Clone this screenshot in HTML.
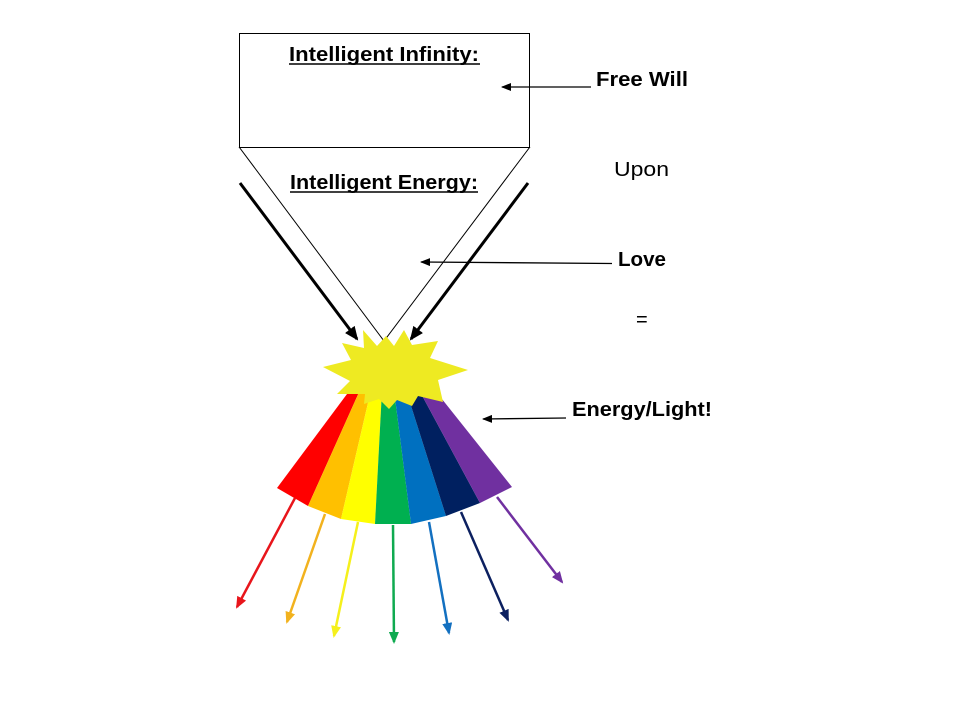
<!DOCTYPE html>
<html><head><meta charset="utf-8"><style>
html,body{margin:0;padding:0;background:#fff;}
svg{display:block;font-family:"Liberation Sans",Arial,sans-serif;}
</style></head><body>
<svg width="973" height="714" viewBox="0 0 973 714" xmlns="http://www.w3.org/2000/svg">
<defs>
<marker id="ah" markerWidth="10" markerHeight="8" refX="9" refY="4" orient="auto" markerUnits="userSpaceOnUse"><path d="M0,0 L10,4 L0,8 Z" fill="#000"/></marker>
<marker id="ahb" markerWidth="14" markerHeight="12" refX="12" refY="6" orient="auto" markerUnits="userSpaceOnUse"><path d="M0,0 L14,6 L0,12 Z" fill="#000"/></marker>
<marker id="mr" markerWidth="12" markerHeight="10" refX="10" refY="5" orient="auto" markerUnits="userSpaceOnUse"><path d="M0,0 L12,5 L0,10 Z" fill="#e8151b"/></marker>
<marker id="mo" markerWidth="12" markerHeight="10" refX="10" refY="5" orient="auto" markerUnits="userSpaceOnUse"><path d="M0,0 L12,5 L0,10 Z" fill="#f2b21e"/></marker>
<marker id="my" markerWidth="12" markerHeight="10" refX="10" refY="5" orient="auto" markerUnits="userSpaceOnUse"><path d="M0,0 L12,5 L0,10 Z" fill="#f5f01c"/></marker>
<marker id="mg" markerWidth="12" markerHeight="10" refX="10" refY="5" orient="auto" markerUnits="userSpaceOnUse"><path d="M0,0 L12,5 L0,10 Z" fill="#0faa50"/></marker>
<marker id="mb" markerWidth="12" markerHeight="10" refX="10" refY="5" orient="auto" markerUnits="userSpaceOnUse"><path d="M0,0 L12,5 L0,10 Z" fill="#1370c0"/></marker>
<marker id="mn" markerWidth="12" markerHeight="10" refX="10" refY="5" orient="auto" markerUnits="userSpaceOnUse"><path d="M0,0 L12,5 L0,10 Z" fill="#0c2060"/></marker>
<marker id="mp" markerWidth="12" markerHeight="10" refX="10" refY="5" orient="auto" markerUnits="userSpaceOnUse"><path d="M0,0 L12,5 L0,10 Z" fill="#7030a0"/></marker>
</defs>

<rect x="239.5" y="33.5" width="290" height="114" fill="#fff" stroke="#000" stroke-width="1"/>
<path d="M239.5,147.5 L529.5,147.5 L384,341 Z" fill="#fff" stroke="#000" stroke-width="1"/>

<line x1="240" y1="183" x2="357" y2="339" stroke="#000" stroke-width="3" marker-end="url(#ahb)"/>
<line x1="528" y1="183" x2="411" y2="339" stroke="#000" stroke-width="3" marker-end="url(#ahb)"/>

<!-- fan -->
<polygon points="350,390 360,390 308,506 277,488" fill="#ff0000"/>
<polygon points="360,390 371,390 341,519 308,506" fill="#ffc000"/>
<polygon points="371,390 382,390 375,524 341,519" fill="#ffff00"/>
<polygon points="382,390 394,390 411,524 375,524" fill="#00b050"/>
<polygon points="394,390 406,390 446,516 411,524" fill="#0070c0"/>
<polygon points="406,390 418,388 480,503 446,516" fill="#002060"/>
<polygon points="418,388 430,384 512,487 480,503" fill="#7030a0"/>

<!-- starburst -->
<polygon fill="#eeea22" points="363,330 377,346 386,336 394,346 404,330 412,345 438,341 430,358 468,370 438,380 443,402 418,396 412,406 397,400 389,409 379,399 364,404 365,394 337,394 350,381 323,367 351,360 342,343 364,348" />

<!-- colored arrows -->
<line x1="295" y1="498" x2="237" y2="607" stroke="#e8151b" stroke-width="2.5" marker-end="url(#mr)"/>
<line x1="325" y1="514" x2="287" y2="622" stroke="#f2b21e" stroke-width="2.5" marker-end="url(#mo)"/>
<line x1="358" y1="522" x2="334" y2="636" stroke="#f5f01c" stroke-width="2.5" marker-end="url(#my)"/>
<line x1="393" y1="525" x2="394" y2="642" stroke="#0faa50" stroke-width="2.5" marker-end="url(#mg)"/>
<line x1="429" y1="522" x2="449" y2="633" stroke="#1370c0" stroke-width="2.5" marker-end="url(#mb)"/>
<line x1="461" y1="512" x2="508" y2="620" stroke="#0c2060" stroke-width="2.5" marker-end="url(#mn)"/>
<line x1="497" y1="497" x2="562" y2="582" stroke="#7030a0" stroke-width="2.5" marker-end="url(#mp)"/>

<!-- thin arrows -->
<line x1="591" y1="87" x2="502" y2="87" stroke="#000" stroke-width="1.3" marker-end="url(#ah)"/>
<line x1="612" y1="263.5" x2="421" y2="262" stroke="#000" stroke-width="1.3" marker-end="url(#ah)"/>
<line x1="566" y1="418" x2="483" y2="419" stroke="#000" stroke-width="1.3" marker-end="url(#ah)"/>

<text x="289" y="61" font-size="20" font-weight="bold" textLength="190" lengthAdjust="spacingAndGlyphs">Intelligent Infinity:</text>
<line x1="289" y1="64" x2="480" y2="64" stroke="#000" stroke-width="1.5"/>
<text x="290" y="189" font-size="20" font-weight="bold" textLength="188" lengthAdjust="spacingAndGlyphs">Intelligent Energy:</text>
<line x1="290" y1="192" x2="478" y2="192" stroke="#000" stroke-width="1.5"/>

<text x="596" y="86" font-size="20" font-weight="bold" textLength="92" lengthAdjust="spacingAndGlyphs">Free Will</text>
<text x="614" y="176" font-size="20" textLength="55" lengthAdjust="spacingAndGlyphs">Upon</text>
<text x="618" y="266" font-size="20" font-weight="bold" textLength="48" lengthAdjust="spacingAndGlyphs">Love</text>
<text x="636" y="326" font-size="20">=</text>
<text x="572" y="416" font-size="20" font-weight="bold" textLength="140" lengthAdjust="spacingAndGlyphs">Energy/Light!</text>
</svg>
</body></html>
